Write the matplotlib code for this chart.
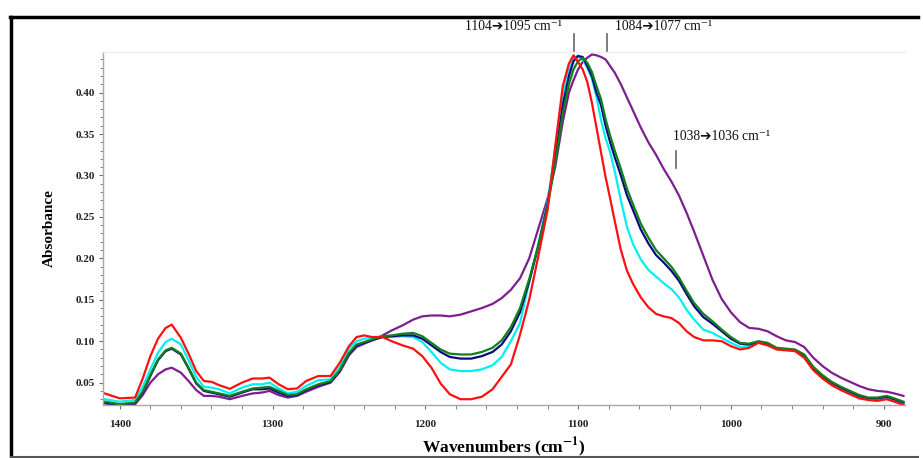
import matplotlib
matplotlib.use("Agg")
import matplotlib.pyplot as plt
from matplotlib.ticker import MultipleLocator, FormatStrFormatter
from matplotlib.lines import Line2D

plt.rcParams["mathtext.fontset"] = "stix"

# Wavenumber grid (cm^-1), shared by all spectra
wavenumber = [1410, 1400, 1390, 1385, 1380, 1375, 1370, 1366, 1360, 1355,
              1350, 1345, 1340, 1335, 1328, 1320, 1313, 1307, 1302, 1296,
              1290, 1284, 1278, 1270, 1262, 1256, 1250, 1245, 1240, 1235,
              1228, 1222, 1215, 1208, 1202, 1196, 1190, 1184, 1177, 1170,
              1163, 1156, 1150, 1144, 1138, 1132, 1126, 1120, 1115, 1110,
              1106, 1103, 1100, 1097, 1094, 1091, 1088, 1085, 1082, 1079,
              1076, 1072, 1068, 1064, 1059, 1054, 1049, 1044, 1039, 1034,
              1029, 1024, 1018, 1012, 1006, 1000, 994, 988, 982, 976,
              970, 964, 958, 952, 946, 940, 934, 928, 922, 916,
              910, 904, 898, 893, 887]

abs_red = [0.037, 0.031, 0.032, 0.055, 0.082, 0.103, 0.116, 0.120, 0.104, 0.085,
           0.064, 0.052, 0.051, 0.047, 0.0425, 0.050, 0.055, 0.055, 0.056, 0.048,
           0.042, 0.043, 0.052, 0.058, 0.058, 0.074, 0.094, 0.105, 0.107, 0.105,
           0.105, 0.100, 0.095, 0.091, 0.082, 0.068, 0.049, 0.036, 0.030, 0.030,
           0.033, 0.042, 0.057, 0.072, 0.108, 0.150, 0.203, 0.258, 0.335, 0.408,
           0.435, 0.445, 0.437, 0.428, 0.413, 0.388, 0.358, 0.328, 0.298, 0.272,
           0.245, 0.210, 0.185, 0.169, 0.153, 0.141, 0.133, 0.130, 0.128, 0.122,
           0.112, 0.105, 0.101, 0.101, 0.100, 0.094, 0.090, 0.092, 0.098, 0.095,
           0.090, 0.089, 0.088, 0.080, 0.065, 0.055, 0.047, 0.041, 0.036, 0.031,
           0.029, 0.028, 0.030, 0.027, 0.023]

abs_cyan = [0.030, 0.027, 0.029, 0.045, 0.066, 0.086, 0.099, 0.103, 0.096, 0.077,
            0.057, 0.045, 0.044, 0.042, 0.037, 0.044, 0.048, 0.048, 0.050, 0.043,
            0.037, 0.039, 0.046, 0.053, 0.054, 0.069, 0.091, 0.100, 0.103, 0.104,
            0.106, 0.105, 0.106, 0.105, 0.099, 0.087, 0.074, 0.066, 0.064, 0.064,
            0.066, 0.071, 0.081, 0.100, 0.122, 0.172, 0.218, 0.268, 0.330, 0.397,
            0.428, 0.441, 0.445, 0.440, 0.430, 0.417, 0.395, 0.367, 0.345, 0.328,
            0.305, 0.270, 0.238, 0.217, 0.199, 0.186, 0.178, 0.170, 0.163, 0.153,
            0.138, 0.126, 0.114, 0.110, 0.104, 0.098, 0.093, 0.094, 0.099, 0.096,
            0.091, 0.090, 0.089, 0.082, 0.067, 0.057, 0.049, 0.043, 0.038, 0.033,
            0.030, 0.030, 0.032, 0.029, 0.025]

abs_navy = [0.026, 0.023, 0.025, 0.038, 0.058, 0.077, 0.088, 0.091, 0.084, 0.067,
            0.049, 0.040, 0.038, 0.036, 0.033, 0.038, 0.042, 0.042, 0.043, 0.038,
            0.034, 0.035, 0.041, 0.047, 0.051, 0.064, 0.085, 0.095, 0.098, 0.101,
            0.105, 0.106, 0.107, 0.107, 0.103, 0.095, 0.087, 0.081, 0.079, 0.079,
            0.082, 0.087, 0.096, 0.112, 0.135, 0.172, 0.215, 0.265, 0.320, 0.385,
            0.420, 0.438, 0.444, 0.443, 0.432, 0.420, 0.400, 0.385, 0.360, 0.340,
            0.322, 0.300, 0.276, 0.258, 0.235, 0.218, 0.204, 0.195, 0.185, 0.173,
            0.157, 0.142, 0.129, 0.121, 0.112, 0.103, 0.097, 0.096, 0.099, 0.097,
            0.091, 0.090, 0.089, 0.083, 0.068, 0.058, 0.050, 0.044, 0.039, 0.034,
            0.031, 0.031, 0.033, 0.030, 0.026]

abs_green = [0.027, 0.024, 0.026, 0.039, 0.059, 0.078, 0.089, 0.092, 0.085, 0.068,
             0.050, 0.041, 0.039, 0.037, 0.034, 0.039, 0.043, 0.044, 0.045, 0.040,
             0.035, 0.036, 0.042, 0.048, 0.052, 0.065, 0.086, 0.096, 0.099, 0.102,
             0.106, 0.107, 0.109, 0.110, 0.106, 0.098, 0.090, 0.085, 0.084, 0.084,
             0.087, 0.092, 0.101, 0.117, 0.140, 0.175, 0.215, 0.262, 0.315, 0.375,
             0.410, 0.428, 0.438, 0.442, 0.436, 0.425, 0.408, 0.392, 0.368, 0.348,
             0.330, 0.308, 0.284, 0.265, 0.242, 0.225, 0.210, 0.200, 0.190, 0.177,
             0.161, 0.146, 0.133, 0.124, 0.114, 0.105, 0.098, 0.097, 0.100, 0.098,
             0.092, 0.091, 0.090, 0.084, 0.069, 0.059, 0.051, 0.045, 0.040, 0.035,
             0.032, 0.032, 0.034, 0.031, 0.027]

abs_purple = [0.025, 0.0225, 0.024, 0.035, 0.050, 0.060, 0.066, 0.068, 0.062, 0.052,
              0.041, 0.034, 0.034, 0.033, 0.030, 0.034, 0.037, 0.038, 0.040, 0.035,
              0.032, 0.034, 0.039, 0.045, 0.050, 0.063, 0.083, 0.093, 0.097, 0.101,
              0.107, 0.113, 0.119, 0.126, 0.130, 0.131, 0.131, 0.130, 0.132, 0.136,
              0.140, 0.145, 0.152, 0.162, 0.176, 0.200, 0.236, 0.272, 0.310, 0.365,
              0.400, 0.415, 0.428, 0.437, 0.442, 0.446, 0.445, 0.443, 0.440, 0.432,
              0.424, 0.410, 0.394, 0.378, 0.358, 0.340, 0.325, 0.308, 0.293, 0.276,
              0.255, 0.232, 0.203, 0.174, 0.151, 0.135, 0.123, 0.116, 0.115, 0.112,
              0.106, 0.101, 0.099, 0.093, 0.080, 0.070, 0.062, 0.056, 0.051, 0.046,
              0.042, 0.040, 0.039, 0.037, 0.034]

# Peak-shift annotations and the wavenumbers they point at
shift_labels = ["1104\u27941095 cm\u207b\u00b9", "1084\u27941077 cm\u207b\u00b9",
                "1038\u27941036 cm\u207b\u00b9"]
shift_marks = [1103, 1081, 1036]

fig = plt.figure(figsize=(9.23, 4.58), dpi=100)
ax = fig.add_axes([0.1116, 0.1157, 0.8689, 0.7708])

series = [
    (abs_purple, "#7d1f8f"),
    (abs_cyan, "#00f0f0"),
    (abs_navy, "#0a0a80"),
    (abs_green, "#11801a"),
    (abs_red, "#ff1010"),
]
for vals, col in series:
    ax.plot(wavenumber, vals, color=col, lw=1.6, solid_joinstyle="round")

ax.set_xlim(1411, 886)
ax.set_ylim(0.023, 0.449)

ax.spines["right"].set_visible(False)
ax.spines["top"].set_color("#ececec")
ax.spines["top"].set_linewidth(0.8)
for side in ("left", "bottom"):
    ax.spines[side].set_color("#a8a8a8")
    ax.spines[side].set_linewidth(1.0)

ax.xaxis.set_major_locator(MultipleLocator(100))
ax.xaxis.set_minor_locator(MultipleLocator(20))
ax.yaxis.set_major_locator(MultipleLocator(0.05))
ax.yaxis.set_minor_locator(MultipleLocator(0.01))
ax.yaxis.set_major_formatter(FormatStrFormatter("%.2f"))
ax.xaxis.set_major_formatter(FormatStrFormatter("%d"))
ax.tick_params(axis="both", which="both", direction="out", color="#707070")
ax.tick_params(axis="both", which="major", length=3, width=0.8)
ax.tick_params(axis="both", which="minor", length=2.5, width=0.6)
ax.tick_params(axis="x", which="minor", length=3)
for lab in ax.get_xticklabels() + ax.get_yticklabels():
    lab.set_fontfamily("Liberation Serif")
    lab.set_fontweight("bold")
    lab.set_fontsize(8)
    lab.set_color("#222222")
ax.tick_params(axis="x", pad=8)
ax.tick_params(axis="y", pad=3)

ax.set_ylabel("Absorbance", fontfamily="Liberation Serif", fontweight="bold",
              fontsize=11, labelpad=14)
ax.set_xlabel(r"Wavenumbers (cm$^{\mathbf{-1}}$)", fontfamily="Liberation Serif",
              fontweight="bold", fontsize=12.5, labelpad=4)

# Peak shift labels with short vertical markers
label_pos = [(1142, 0.4795), (1044, 0.4795), (1006, 0.3465)]
mark_span = [(0.4505, 0.4706), (0.4505, 0.4706), (0.3088, 0.3294)]
for text, wn, (lx, ly), (y0, y1) in zip(shift_labels, shift_marks, label_pos, mark_span):
    ax.text(lx, ly, text, ha="center", va="center", fontsize=9.8,
            family=["Liberation Serif", "DejaVu Sans"], color="#111111", clip_on=False)
    ax.add_line(Line2D([wn, wn], [y0, y1], color="#666666", lw=1.2, clip_on=False))

# Outer frame
fig.add_artist(Line2D([0.0119, 0.0119], [0.0, 0.962], transform=fig.transFigure,
                      color="black", lw=2.5))
fig.add_artist(Line2D([0.0108, 0.995], [0.962, 0.962], transform=fig.transFigure,
                      color="black", lw=2.5))
fig.add_artist(Line2D([0.0119, 0.995], [0.003, 0.003], transform=fig.transFigure,
                      color="#555555", lw=1.5))

fig.savefig("out.png", dpi=100, facecolor="white")
